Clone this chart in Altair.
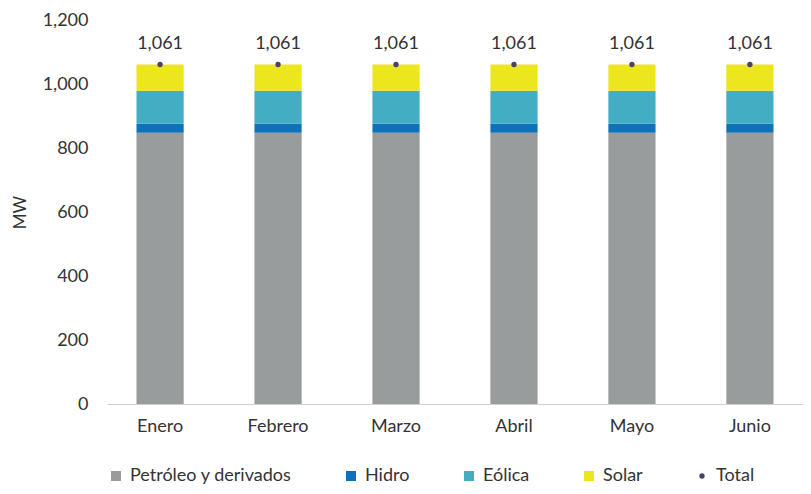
import altair as alt
import pandas as pd

meses = ["Enero", "Febrero", "Marzo", "Abril", "Mayo", "Junio"]
series = ["Petróleo y derivados", "Hidro", "Eólica", "Solar"]
petroleo = [848, 848, 848, 848, 848, 848]
hidro = [28, 28, 28, 28, 28, 28]
eolica = [103, 103, 103, 103, 103, 103]
solar = [82, 82, 82, 82, 82, 82]
total = [1061, 1061, 1061, 1061, 1061, 1061]

colores = ["#989c9c", "#0f72b8", "#43adc4", "#ebe61e", "#4b3f6b"]
leyenda = series + ["Total"]

rows = []
for i, m in enumerate(meses):
    for j, (s, vals) in enumerate(zip(series, [petroleo, hidro, eolica, solar])):
        rows.append({"Mes": m, "Serie": s, "MW": vals[i], "orden": j})
df = pd.DataFrame(rows)
dft = pd.DataFrame({"Mes": meses, "Serie": ["Total"] * len(meses), "MW": total})

FONT = "Lato"
FS = 18
xenc = alt.X("Mes:N", sort=meses, title=None,
             scale=alt.Scale(paddingInner=0.6, paddingOuter=0.25),
             axis=alt.Axis(labelAngle=0, ticks=False, domainColor="#d0d0d0",
                           labelPadding=13, labelFontSize=FS, labelColor="#333333",
                           labelFont=FONT))
color = alt.Color("Serie:N", scale=alt.Scale(domain=leyenda, range=colores),
                  legend=alt.Legend(title=None, orient="bottom", direction="horizontal",
                                    labelFontSize=FS, labelFont=FONT, labelColor="#333333",
                                    labelLimit=0, columnPadding=50, symbolSize=100,
                                    labelOffset=5, offset=32))

bars = alt.Chart(df).mark_bar().encode(
    x=xenc,
    y=alt.Y("MW:Q", title="MW", stack="zero",
            scale=alt.Scale(domain=[0, 1200]),
            axis=alt.Axis(values=[0, 200, 400, 600, 800, 1000, 1200], format=",.0f",
                          grid=False, domain=False, ticks=False, labelPadding=19,
                          labelFontSize=FS, labelColor="#333333", labelFont=FONT,
                          titleFont=FONT, titleFontSize=17, titleFontWeight="normal",
                          titleColor="#333333", titlePadding=13)),
    color=color,
    order=alt.Order("orden:Q", sort="ascending"),
)

points = alt.Chart(dft).mark_point(filled=True, opacity=1).encode(
    x=alt.X("Mes:N", sort=meses),
    y=alt.Y("MW:Q"),
    color=color,
    shape=alt.Shape("Serie:N", scale=alt.Scale(domain=leyenda,
                    range=["square", "square", "square", "square", "circle"]), legend=alt.Legend(title=None)),
    size=alt.Size("Serie:N", scale=alt.Scale(type="ordinal", domain=leyenda, range=[100, 100, 100, 100, 28]),
                  legend=alt.Legend(title=None)),
)

labels = alt.Chart(dft).mark_text(dy=-20, fontSize=FS, font=FONT, color="#333333").encode(
    x=alt.X("Mes:N", sort=meses),
    y=alt.Y("MW:Q"),
    text=alt.Text("MW:Q", format=",.0f"),
)

chart = alt.layer(bars, points, labels).properties(
    width=795, height=477,
    autosize=alt.AutoSizeParams(type="fit", contains="padding"),
    padding={"left": 3, "top": 3, "right": 0, "bottom": 0},
).configure_view(stroke=None)

chart.save("out.html", embed_options={"renderer": "svg", "actions": False})
